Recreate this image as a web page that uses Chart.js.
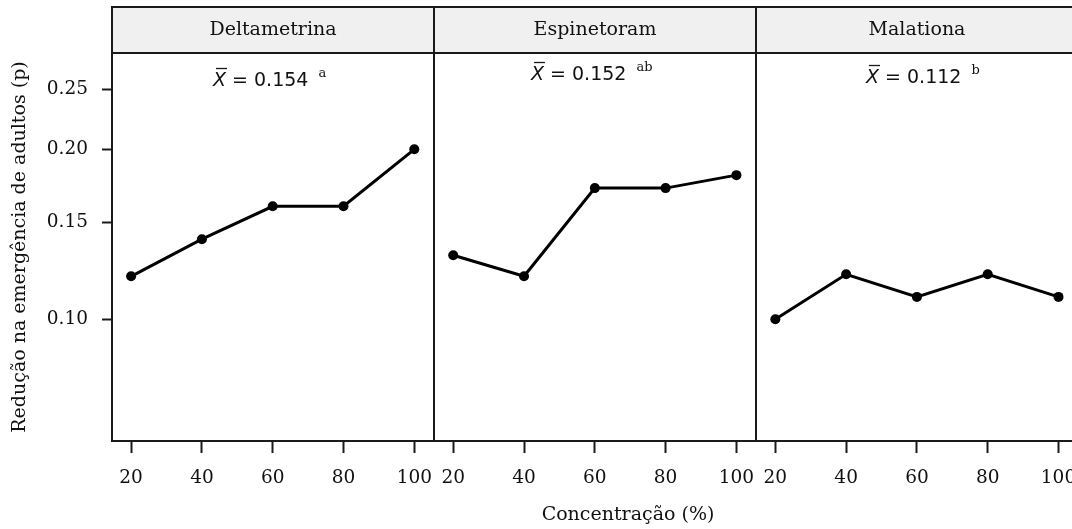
<!DOCTYPE html>
<html><head><meta charset="utf-8">
<script src="https://cdn.jsdelivr.net/npm/chart.js@4/dist/chart.umd.min.js"></script>
<style>html,body{margin:0;padding:0;background:#fff;overflow:hidden}#wrap{width:1072px;height:529px;position:relative}</style>
</head><body><div id="wrap"><canvas id="c" width="1072" height="529" style="width:1072px;height:529px"></canvas></div>
<script>
// ---- data ----
const panels = ['Deltametrina', 'Espinetoram', 'Malationa'];
const concentrations = [20, 40, 60, 80, 100];
const deltametrina = [0.12, 0.14, 0.16, 0.16, 0.20];
const espinetoram = [0.131, 0.12, 0.172, 0.172, 0.181];
const malationa = [0.10, 0.121, 0.11, 0.121, 0.11];
const means = ['0.154', '0.152', '0.112'];
const meanLetters = ['a', 'ab', 'b'];
const yTicks = [0.10, 0.15, 0.20, 0.25];
const yTickLabels = ['0.10', '0.15', '0.20', '0.25'];
const xTickLabels = ['20', '40', '60', '80', '100'];
const xTitle = 'Concentração (%)';
const yTitle = 'Redução na emergência de adultos (p)';

// ---- panel geometry (x units per panel, lattice-style padding) ----
const X_LO = 14.6, PANEL_W = 91.0, X_MAX = 269.8;
const Y_MIN = 0.0585, Y_MAX = 0.2836;
const gx = (p, c) => p * PANEL_W + (c - X_LO);

// ---- logit scale ----
const logit = p => Math.log(p / (1 - p));
const expit = z => 1 / (1 + Math.exp(-z));
class LogitScale extends Chart.LinearScale {
  buildTicks() { return yTicks.map(v => ({ value: v })); }
  configure() { super.configure(); this._lmin = logit(this.min); this._lmax = logit(this.max); }
  getPixelForValue(v) { return this.getPixelForDecimal((logit(v) - this._lmin) / (this._lmax - this._lmin)); }
  getValueForPixel(px) { return expit(this._lmin + this.getDecimalForPixel(px) * (this._lmax - this._lmin)); }
}
LogitScale.id = 'logit';
LogitScale.defaults = Chart.LinearScale.defaults;
Chart.register(LogitScale);

const seriesList = [deltametrina, espinetoram, malationa];
const datasets = seriesList.map((s, p) => ({
  label: panels[p],
  data: concentrations.map((c, i) => ({ x: gx(p, c), y: s[i] })),
  borderColor: '#000', backgroundColor: '#000',
  borderWidth: 3, pointRadius: 5, pointHoverRadius: 5,
  pointBackgroundColor: '#000', pointBorderWidth: 0, tension: 0
}));

const SERIF = '"DejaVu Serif", serif';
const SANS = '"DejaVu Sans", sans-serif';
const DARK = '#1a1a1a';
const MEAN_POS = [{ dx: 101, y: 81 }, { dx: 97, y: 75 }, { dx: 110, y: 78 }];

const lattice = {
  id: 'lattice',
  afterDraw(chart) {
    const ctx = chart.ctx, xs = chart.scales.x;
    const top = chart.chartArea.top, bottom = chart.chartArea.bottom;
    ctx.save();
    for (let p = 0; p < panels.length; p++) {
      const x0 = Math.round(xs.getPixelForValue(p * PANEL_W));
      const x1 = Math.round(xs.getPixelForValue((p + 1) * PANEL_W));
      ctx.fillStyle = '#f0f0f0';
      ctx.fillRect(x0, 7, x1 - x0, top - 7);
      ctx.strokeStyle = DARK; ctx.lineWidth = 2;
      ctx.strokeRect(x0, 7, x1 - x0, top - 7);
      ctx.strokeRect(x0, top, x1 - x0, bottom - top);
      ctx.fillStyle = '#111';
      ctx.font = '19px ' + SERIF;
      ctx.textAlign = 'center'; ctx.textBaseline = 'middle';
      ctx.fillText(panels[p], (x0 + x1) / 2, (7 + top) / 2);
      const mp = MEAN_POS[p];
      let x = x0 + mp.dx; const y = mp.y;
      ctx.textAlign = 'left'; ctx.textBaseline = 'middle';
      ctx.font = 'italic 19px ' + SANS;
      const wX = ctx.measureText('X').width;
      ctx.fillText('X', x, y);
      ctx.lineWidth = 1.3; ctx.beginPath();
      ctx.moveTo(x + 3, y - 12.5); ctx.lineTo(x + wX + 1, y - 12.5); ctx.stroke();
      x += wX;
      ctx.font = '19px ' + SANS;
      const rest = ' = ' + means[p];
      ctx.fillText(rest, x, y);
      x += ctx.measureText(rest).width + 10;
      ctx.font = '13px ' + SERIF;
      ctx.fillText(meanLetters[p], x, y - 7);
    }
    ctx.fillStyle = '#111';
    ctx.font = '19px ' + SERIF;
    ctx.textAlign = 'center'; ctx.textBaseline = 'middle';
    ctx.fillText(xTitle, 628, 515);
    ctx.translate(20, (top + bottom) / 2);
    ctx.rotate(-Math.PI / 2);
    ctx.fillText(yTitle, 0, 0);
    ctx.restore();
  }
};

const xTickPositions = [];
for (let p = 0; p < panels.length; p++) concentrations.forEach(c => xTickPositions.push(gx(p, c)));

new Chart(document.getElementById('c'), {
  type: 'line',
  data: { datasets },
  options: {
    responsive: false, animation: false, devicePixelRatio: 1,
    layout: { padding: { top: 53, left: 0, right: 0, bottom: 0 } },
    plugins: { legend: { display: false }, tooltip: { enabled: false } },
    scales: {
      x: {
        type: 'linear', min: 0, max: X_MAX,
        afterBuildTicks: s => { s.ticks = xTickPositions.map(v => ({ value: v })); },
        afterFit: s => { s.height = 88; s.paddingLeft = 0; s.paddingRight = 0; },
        border: { display: false },
        grid: { drawOnChartArea: false, drawTicks: true, tickLength: 12, tickColor: DARK, tickWidth: 2 },
        ticks: { autoSkip: false, maxRotation: 0, padding: 14, color: '#111', font: { family: SERIF, size: 18.5 },
          callback: (v, i) => xTickLabels[i % xTickLabels.length] }
      },
      y: {
        type: 'logit', min: Y_MIN, max: Y_MAX,
        afterFit: s => { s.width = 112; s.paddingTop = 0; s.paddingBottom = 0; },
        border: { display: false },
        grid: { drawOnChartArea: false, drawTicks: true, tickLength: 10, tickColor: DARK, tickWidth: 2 },
        ticks: { padding: 14, color: '#111', font: { family: SERIF, size: 18.5 },
          callback: (v, i) => yTickLabels[i] }
      }
    }
  },
  plugins: [lattice]
});
</script></body></html>
